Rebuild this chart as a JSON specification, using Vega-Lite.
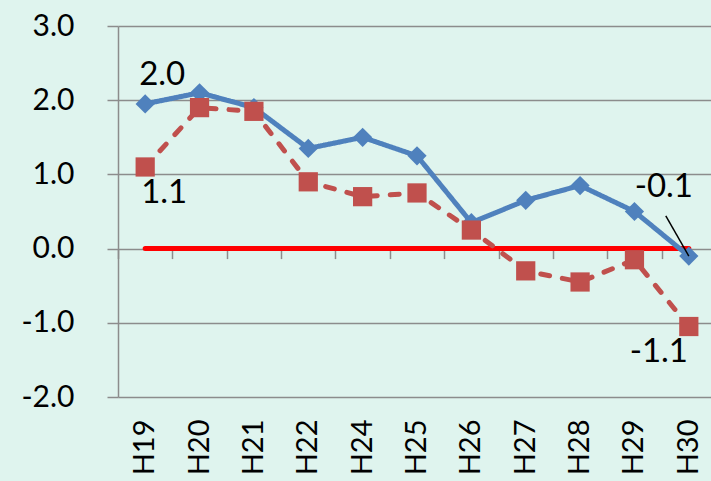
{
  "$schema": "https://vega.github.io/schema/vega-lite/v6.json",
  "width": 593,
  "height": 371,
  "autosize": "none",
  "padding": {"left": 118, "top": 26, "right": 0, "bottom": 84},
  "background": "#dff4ee",
  "config": {"view": {"stroke": null}, "font": "Lato"},
  "datasets": {
    "series": [
      {"period": "H19", "series": "A", "value": 1.95},
      {"period": "H20", "series": "A", "value": 2.1},
      {"period": "H21", "series": "A", "value": 1.9},
      {"period": "H22", "series": "A", "value": 1.35},
      {"period": "H24", "series": "A", "value": 1.5},
      {"period": "H25", "series": "A", "value": 1.25},
      {"period": "H26", "series": "A", "value": 0.35},
      {"period": "H27", "series": "A", "value": 0.65},
      {"period": "H28", "series": "A", "value": 0.85},
      {"period": "H29", "series": "A", "value": 0.5},
      {"period": "H30", "series": "A", "value": -0.1},
      {"period": "H19", "series": "B", "value": 1.1},
      {"period": "H20", "series": "B", "value": 1.9},
      {"period": "H21", "series": "B", "value": 1.85},
      {"period": "H22", "series": "B", "value": 0.9},
      {"period": "H24", "series": "B", "value": 0.7},
      {"period": "H25", "series": "B", "value": 0.75},
      {"period": "H26", "series": "B", "value": 0.25},
      {"period": "H27", "series": "B", "value": -0.3},
      {"period": "H28", "series": "B", "value": -0.45},
      {"period": "H29", "series": "B", "value": -0.15},
      {"period": "H30", "series": "B", "value": -1.05}
    ],
    "zero": [
      {"period": "H19", "value": 0},
      {"period": "H30", "value": 0}
    ],
    "labels": [
      {"period": "H19", "value": 1.95, "label": "2.0", "pos": "a"},
      {"period": "H19", "value": 1.1, "label": "1.1", "pos": "b"},
      {"period": "H30", "value": -0.1, "label": "-0.1", "pos": "c"},
      {"period": "H30", "value": -1.05, "label": "-1.1", "pos": "d"}
    ],
    "leader": [
      {"period": "H30", "from": -0.1, "to": 0.44}
    ]
  },
  "resolve": {"axis": {"x": "independent"}},
  "layer": [
    {
      "data": {"name": "zero"},
      "mark": {"type": "line", "color": "#ff0000", "strokeWidth": 5, "strokeCap": "round"},
      "encoding": {
        "x": {"field": "period", "type": "ordinal",
          "scale": {"type": "band", "domain": ["H19","H20","H21","H22","H24","H25","H26","H27","H28","H29","H30"], "range": [0, 598], "paddingInner": 0, "paddingOuter": 0},
          "axis": {"orient": "bottom", "offset": -148.4, "labels": false, "ticks": true, "tickBand": "extent", "tickSize": 10, "tickColor": "#8c8c8c", "tickWidth": 1.5, "domain": false, "grid": false, "title": null}},
        "y": {"field": "value", "type": "quantitative",
          "scale": {"domain": [-2, 3], "nice": false, "zero": false},
          "axis": {"values": [-2, -1, 0, 1, 2, 3], "labelExpr": "replace(format(datum.value, '.1f'), '\u2212', '-')", "title": null, "grid": true, "gridColor": "#8c8c8c", "gridWidth": 1.5, "domain": true, "domainColor": "#8c8c8c", "domainWidth": 1.5, "tickSize": 11, "tickColor": "#8c8c8c", "tickWidth": 1.5, "labelFontSize": 30, "labelColor": "#000000", "labelPadding": 33, "labelFont": "Lato"}}
      }
    },
    {
      "data": {"name": "series"},
      "mark": {"type": "line", "strokeWidth": 5, "strokeCap": "round"},
      "encoding": {
        "x": {"field": "period", "type": "ordinal",
          "axis": {"orient": "bottom", "labelAngle": -90, "labelAlign": "right", "labelBaseline": "middle", "labelPadding": 22, "labelFontSize": 29, "labelColor": "#000000", "labelFont": "Lato", "ticks": false, "domain": false, "grid": false, "title": null}},
        "y": {"field": "value", "type": "quantitative"},
        "color": {"field": "series", "type": "nominal", "scale": {"domain": ["A", "B"], "range": ["#4f81bd", "#c0504d"]}, "legend": null},
        "strokeDash": {"field": "series", "type": "nominal", "scale": {"domain": ["A", "B"], "range": [[1, 0], [9, 13]]}, "legend": null}
      }
    },
    {
      "data": {"name": "series"},
      "mark": {"type": "point", "filled": true, "opacity": 1, "size": 370},
      "encoding": {
        "x": {"field": "period", "type": "ordinal", "axis": null},
        "y": {"field": "value", "type": "quantitative"},
        "color": {"field": "series", "type": "nominal", "legend": null},
        "shape": {"field": "series", "type": "nominal", "scale": {"domain": ["A", "B"], "range": ["diamond", "square"]}, "legend": null}
      }
    },
    {
      "data": {"name": "leader"},
      "mark": {"type": "rule", "color": "#000000", "strokeWidth": 1.5, "x2Offset": -23},
      "encoding": {
        "x": {"field": "period", "type": "ordinal", "axis": null},
        "x2": {"field": "period"},
        "y": {"field": "from", "type": "quantitative"},
        "y2": {"field": "to"}
      }
    },
    {
      "data": {"name": "labels"},
      "transform": [{"filter": "datum.pos == 'a'"}],
      "mark": {"type": "text", "fontSize": 33, "font": "Lato", "color": "#000000", "dx": 17, "dy": -29},
      "encoding": {
        "x": {"field": "period", "type": "ordinal", "axis": null},
        "y": {"field": "value", "type": "quantitative"},
        "text": {"field": "label"}
      }
    },
    {
      "data": {"name": "labels"},
      "transform": [{"filter": "datum.pos == 'b'"}],
      "mark": {"type": "text", "fontSize": 33, "font": "Lato", "color": "#000000", "dx": 19, "dy": 26},
      "encoding": {
        "x": {"field": "period", "type": "ordinal", "axis": null},
        "y": {"field": "value", "type": "quantitative"},
        "text": {"field": "label"}
      }
    },
    {
      "data": {"name": "labels"},
      "transform": [{"filter": "datum.pos == 'c'"}],
      "mark": {"type": "text", "fontSize": 33, "font": "Lato", "color": "#000000", "dx": -25, "dy": -69},
      "encoding": {
        "x": {"field": "period", "type": "ordinal", "axis": null},
        "y": {"field": "value", "type": "quantitative"},
        "text": {"field": "label"}
      }
    },
    {
      "data": {"name": "labels"},
      "transform": [{"filter": "datum.pos == 'd'"}],
      "mark": {"type": "text", "fontSize": 33, "font": "Lato", "color": "#000000", "dx": -30, "dy": 25},
      "encoding": {
        "x": {"field": "period", "type": "ordinal", "axis": null},
        "y": {"field": "value", "type": "quantitative"},
        "text": {"field": "label"}
      }
    }
  ]
}
